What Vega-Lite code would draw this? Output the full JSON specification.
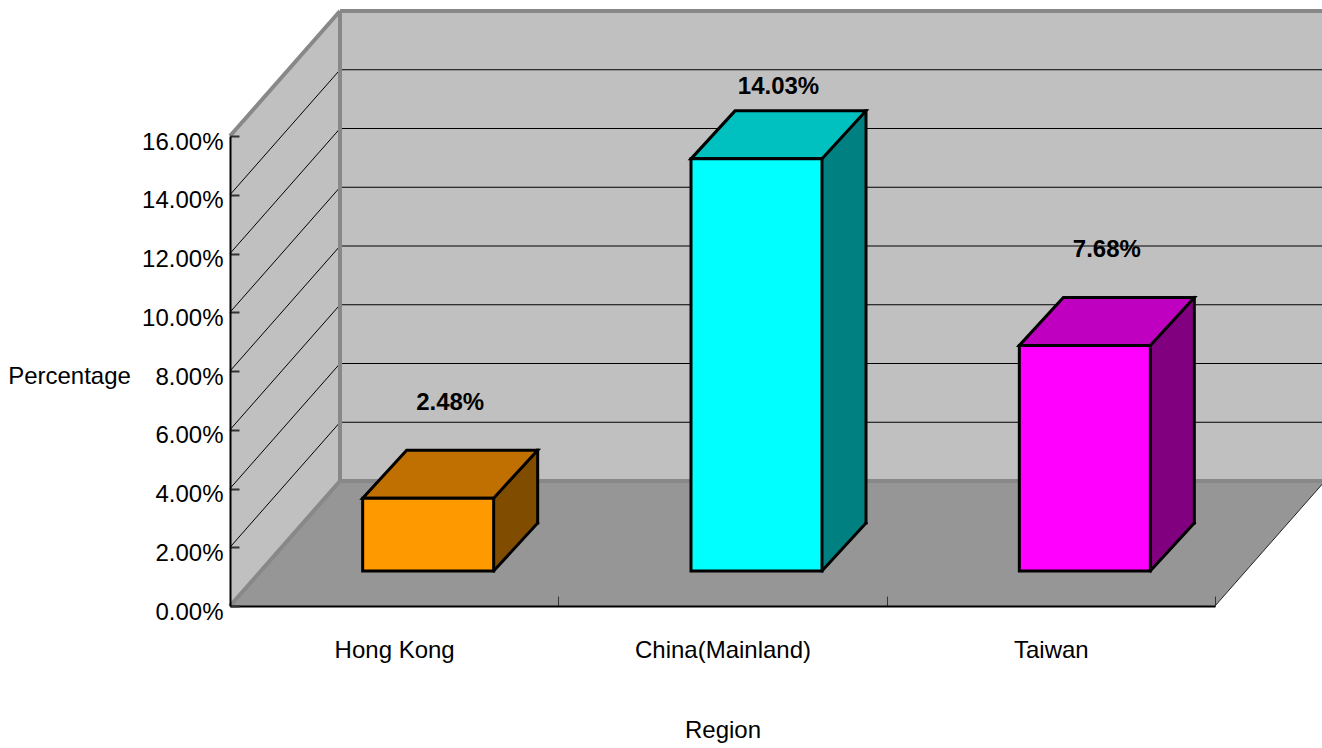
{
  "$schema": "https://vega.github.io/schema/vega-lite/v6.json",
  "width": 985,
  "height": 470,
  "autosize": {"type": "none"},
  "padding": {"left": 230, "top": 136, "right": 107, "bottom": 142},
  "background": "white",
  "config": {"view": {"stroke": null}, "font": "Liberation Sans"},
  "datasets": {
    "regions": [
      {"region": "Hong Kong", "value": 0.0248},
      {"region": "China(Mainland)", "value": 0.1403},
      {"region": "Taiwan", "value": 0.0768}
    ],
    "levels": [
      {"level": 0.02}, {"level": 0.04}, {"level": 0.06}, {"level": 0.08},
      {"level": 0.10}, {"level": 0.12}, {"level": 0.14}
    ]
  },
  "resolve": {"scale": {"x": "independent"}},
  "layer": [
    {
      "data": {"name": "regions"},
      "resolve": {"scale": {"fill": "independent"}},
      "layer": [
        {
          "mark": {"type": "bar", "width": 131, "xOffset": 34, "yOffset": -35, "y2Offset": -35, "stroke": "#000000", "strokeWidth": 3, "strokeJoin": "miter", "opacity": 0},
          "encoding": {
            "x": {
              "field": "region", "type": "nominal", "sort": null,
              "scale": {"paddingInner": 0, "paddingOuter": 0},
              "axis": {
                "title": "Region", "labelAngle": 0, "tickBand": "extent",
                "domainColor": "#000000", "domainWidth": 2,
                "tickColor": "#333333", "tickWidth": 1, "tickSize": -10,
                "labelPadding": 61, "labelBaseline": "alphabetic",
                "labelFont": "Liberation Sans", "labelFontSize": 24, "labelColor": "#000000",
                "titleFont": "Liberation Sans", "titleFontSize": 24, "titleFontWeight": "normal", "titleColor": "#000000",
                "titleY": 131, "titleBaseline": "alphabetic", "zindex": 1
              }
            },
            "y": {
              "field": "value", "type": "quantitative",
              "scale": {"domain": [0, 0.16], "nice": false},
              "axis": {
                "title": "Percentage", "format": ".2%",
                "values": [0, 0.02, 0.04, 0.06, 0.08, 0.1, 0.12, 0.14, 0.16],
                "grid": false,
                "domainColor": "#000000", "domainWidth": 2,
                "tickColor": "#333333", "tickWidth": 2, "tickSize": -9,
                "labelPadding": 16, "labelOffset": 6,
                "labelFont": "Liberation Sans", "labelFontSize": 24, "labelColor": "#000000",
                "titleFont": "Liberation Sans", "titleFontSize": 24, "titleFontWeight": "normal", "titleColor": "#000000",
                "titleAngle": 0, "titleAlign": "center", "titleBaseline": "alphabetic",
                "titleX": -161, "titleY": 247, "zindex": 1
              }
            },
            "y2": {"datum": 0}
          }
        }
      ]
    },
    {
      "data": {"values": [{}]},
      "layer": [
        {
          "mark": {"type": "rect", "fill": "#c0c0c0", "opacity": 1, "xOffset": 110, "x2Offset": 110, "yOffset": -125, "y2Offset": -125},
          "encoding": {
            "x": {"datum": 0, "type": "quantitative", "scale": {"domain": [0, 1]}, "axis": null},
            "x2": {"datum": 1},
            "y": {"datum": 0.16, "type": "quantitative"},
            "y2": {"datum": 0}
          }
        },
        {
          "mark": {"type": "rect", "fill": "#c0c0c0", "opacity": 1, "x2Offset": 110, "y2Offset": -125},
          "encoding": {
            "x": {"datum": 0, "type": "quantitative", "axis": null},
            "x2": {"datum": 0},
            "y": {"datum": 0.16, "type": "quantitative"},
            "y2": {"datum": 0}
          }
        },
        {
          "mark": {"type": "point", "shape": "M0,0L110,-125L110,2L0,2Z", "size": 4, "filled": true, "fill": "#c0c0c0", "strokeWidth": 0, "opacity": 1},
          "encoding": {
            "x": {"datum": 0, "type": "quantitative", "axis": null},
            "y": {"datum": 0.16, "type": "quantitative"}
          }
        },
        {
          "mark": {"type": "point", "shape": "M0,-127L0,0L110,-125L110,-127Z", "size": 4, "filled": true, "fill": "#c0c0c0", "strokeWidth": 0, "opacity": 1},
          "encoding": {
            "x": {"datum": 0, "type": "quantitative", "axis": null},
            "y": {"datum": 0, "type": "quantitative"}
          }
        },
        {
          "mark": {"type": "rect", "fill": "#969696", "opacity": 1, "xOffset": 110, "yOffset": -125},
          "encoding": {
            "x": {"datum": 0, "type": "quantitative", "axis": null},
            "x2": {"datum": 1},
            "y": {"datum": 0, "type": "quantitative"},
            "y2": {"datum": 0}
          }
        },
        {
          "mark": {"type": "point", "shape": "M0,0L110,-125L112,-125L112,0Z", "size": 4, "filled": true, "fill": "#969696", "strokeWidth": 0, "opacity": 1},
          "encoding": {
            "x": {"datum": 0, "type": "quantitative", "axis": null},
            "y": {"datum": 0, "type": "quantitative"}
          }
        },
        {
          "mark": {"type": "point", "shape": "M-2,0L-2,-125L110,-125L0,0Z", "size": 4, "filled": true, "fill": "#969696", "strokeWidth": 0, "opacity": 1},
          "encoding": {
            "x": {"datum": 1, "type": "quantitative", "axis": null},
            "y": {"datum": 0, "type": "quantitative"}
          }
        },
        {
          "mark": {"type": "rule", "color": "#222222", "strokeWidth": 1, "x2Offset": 110, "y2Offset": -125},
          "encoding": {
            "x": {"datum": 1, "type": "quantitative", "axis": null},
            "x2": {"datum": 1},
            "y": {"datum": 0, "type": "quantitative"},
            "y2": {"datum": 0}
          }
        },
        {
          "data": {"name": "levels"},
          "mark": {"type": "rule", "color": "#000000", "strokeWidth": 1, "xOffset": 110, "x2Offset": 110, "yOffset": -125},
          "encoding": {
            "x": {"datum": 0, "type": "quantitative", "axis": null},
            "x2": {"datum": 1},
            "y": {"field": "level", "type": "quantitative"}
          }
        },
        {
          "data": {"name": "levels"},
          "mark": {"type": "rule", "color": "#000000", "strokeWidth": 1, "x2Offset": 110, "y2Offset": -125},
          "encoding": {
            "x": {"datum": 0, "type": "quantitative", "axis": null},
            "x2": {"datum": 0},
            "y": {"field": "level", "type": "quantitative"},
            "y2": {"field": "level"}
          }
        },
        {
          "mark": {"type": "rule", "color": "#888888", "strokeWidth": 4, "x2Offset": 110, "y2Offset": -125},
          "encoding": {
            "x": {"datum": 0, "type": "quantitative", "axis": null},
            "x2": {"datum": 0},
            "y": {"datum": 0.16, "type": "quantitative"},
            "y2": {"datum": 0.16}
          }
        },
        {
          "mark": {"type": "rule", "color": "#888888", "strokeWidth": 4, "x2Offset": 110, "y2Offset": -125},
          "encoding": {
            "x": {"datum": 0, "type": "quantitative", "axis": null},
            "x2": {"datum": 0},
            "y": {"datum": 0, "type": "quantitative"},
            "y2": {"datum": 0}
          }
        },
        {
          "mark": {"type": "rule", "color": "#888888", "strokeWidth": 4, "xOffset": 110, "x2Offset": 110, "yOffset": -125},
          "encoding": {
            "x": {"datum": 0, "type": "quantitative", "axis": null},
            "x2": {"datum": 1},
            "y": {"datum": 0.16, "type": "quantitative"}
          }
        },
        {
          "mark": {"type": "rule", "color": "#888888", "strokeWidth": 4, "xOffset": 110, "x2Offset": 110, "yOffset": -125},
          "encoding": {
            "x": {"datum": 0, "type": "quantitative", "axis": null},
            "x2": {"datum": 1},
            "y": {"datum": 0, "type": "quantitative"}
          }
        },
        {
          "mark": {"type": "rule", "color": "#888888", "strokeWidth": 4, "xOffset": 110, "yOffset": -125, "y2Offset": -125},
          "encoding": {
            "x": {"datum": 0, "type": "quantitative", "axis": null},
            "y": {"datum": 0.16, "type": "quantitative"},
            "y2": {"datum": 0}
          }
        }
      ]
    },
    {
      "data": {"name": "regions"},
      "resolve": {"scale": {"fill": "independent"}},
      "layer": [
        {
          "mark": {"type": "bar", "width": 44, "xOffset": 121.5, "yOffset": -35, "y2Offset": -83, "opacity": 1, "strokeWidth": 0},
          "encoding": {
            "x": {"field": "region", "type": "nominal", "sort": null, "scale": {"paddingInner": 0, "paddingOuter": 0}},
            "y": {"field": "value", "type": "quantitative"},
            "y2": {"datum": 0},
            "fill": {"field": "region", "type": "nominal", "sort": null, "scale": {"domain": ["Hong Kong", "China(Mainland)", "Taiwan"], "range": ["#804c00", "#008080", "#800080"]}, "legend": null}
          }
        },
        {
          "mark": {"type": "point", "shape": "M65.5,0L109.5,-48L109.5,1L65.5,1Z", "size": 4, "filled": true, "strokeWidth": 0, "opacity": 1, "xOffset": 34, "yOffset": -35},
          "encoding": {
            "x": {"field": "region", "type": "nominal", "sort": null},
            "y": {"field": "value", "type": "quantitative"},
            "fill": {"field": "region", "type": "nominal", "sort": null, "scale": {"domain": ["Hong Kong", "China(Mainland)", "Taiwan"], "range": ["#804c00", "#008080", "#800080"]}, "legend": null}
          }
        },
        {
          "mark": {"type": "point", "shape": "M109.5,-49L109.5,-48L65.5,0L65.5,-49Z", "size": 4, "filled": true, "strokeWidth": 0, "opacity": 1, "xOffset": 34, "yOffset": -35},
          "encoding": {
            "x": {"field": "region", "type": "nominal", "sort": null},
            "y": {"datum": 0, "type": "quantitative"},
            "fill": {"field": "region", "type": "nominal", "sort": null, "scale": {"domain": ["Hong Kong", "China(Mainland)", "Taiwan"], "range": ["#804c00", "#008080", "#800080"]}, "legend": null}
          }
        },
        {
          "mark": {"type": "rule", "color": "#000000", "strokeWidth": 3, "strokeCap": "square", "xOffset": 143.5, "yOffset": -83, "y2Offset": -83},
          "encoding": {
            "x": {"field": "region", "type": "nominal", "sort": null},
            "y": {"field": "value", "type": "quantitative"},
            "y2": {"datum": 0}
          }
        },
        {
          "mark": {"type": "point", "shape": "M109.5,-48L65.5,0", "size": 4, "filled": false, "stroke": "#000000", "strokeWidth": 3, "strokeCap": "square", "opacity": 1, "xOffset": 34, "yOffset": -35},
          "encoding": {
            "x": {"field": "region", "type": "nominal", "sort": null},
            "y": {"datum": 0, "type": "quantitative"}
          }
        },
        {
          "mark": {"type": "point", "shape": "M-65.5,0L65.5,0L109.5,-48L-21.5,-48Z", "size": 4, "filled": true, "stroke": "#000000", "strokeWidth": 3, "strokeJoin": "miter", "opacity": 1, "xOffset": 34, "yOffset": -35},
          "encoding": {
            "x": {"field": "region", "type": "nominal", "sort": null},
            "y": {"field": "value", "type": "quantitative"},
            "fill": {"field": "region", "type": "nominal", "sort": null, "scale": {"domain": ["Hong Kong", "China(Mainland)", "Taiwan"], "range": ["#c07000", "#00c0c0", "#c000c0"]}, "legend": null}
          }
        },
        {
          "mark": {"type": "bar", "width": 131, "xOffset": 34, "yOffset": -35, "y2Offset": -35, "stroke": "#000000", "strokeWidth": 3, "strokeJoin": "miter", "opacity": 1},
          "encoding": {
            "x": {"field": "region", "type": "nominal", "sort": null},
            "y": {"field": "value", "type": "quantitative"},
            "y2": {"datum": 0},
            "fill": {"field": "region", "type": "nominal", "sort": null, "scale": {"domain": ["Hong Kong", "China(Mainland)", "Taiwan"], "range": ["#ff9900", "#00ffff", "#ff00ff"]}, "legend": null}
          }
        },
        {
          "mark": {"type": "text", "font": "Liberation Sans", "fontSize": 24, "fontWeight": "bold", "align": "center", "baseline": "alphabetic", "color": "#000000", "xOffset": 56, "yOffset": {"expr": "datum.value > 0.12 ? -100 : -123"}},
          "encoding": {
            "x": {"field": "region", "type": "nominal", "sort": null},
            "y": {"field": "value", "type": "quantitative"},
            "text": {"field": "value", "type": "quantitative", "format": ".2%"}
          }
        }
      ]
    }
  ]
}
